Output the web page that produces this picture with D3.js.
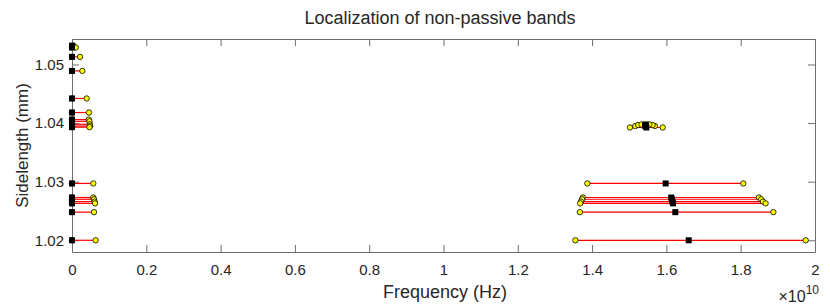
<!DOCTYPE html>
<html>
<head>
<meta charset="utf-8">
<script src="https://cdn.jsdelivr.net/npm/d3@7"></script>
<style>
  body { margin: 0; background: #fff; }
  text { font-family: "Liberation Sans", Arial, sans-serif; fill: #262626; }
</style>
</head>
<body>
<div id="chart"></div>
<script>
// sidelength (mm) of each band and its frequencies (units of 1e10 Hz)
var sidelength = [1.0532, 1.0529, 1.0513, 1.0489, 1.0442, 1.0418, 1.0406, 1.0403, 1.0398, 1.0395, 1.0393,
                  1.0297, 1.0273, 1.0270, 1.0266, 1.0263, 1.0248, 1.0200,
                  1.0297, 1.0273, 1.0270, 1.0266, 1.0263, 1.0248, 1.0200,
                  1.03925, 1.0395, 1.03967, 1.03976];
var fLow  = [0, 0, 0, 0, 0, 0, 0, 0, 0, 0, 0,
             0, 0, 0, 0, 0, 0, 0,
             1.387, 1.375, 1.373, 1.370, 1.368, 1.367, 1.355,
             1.502, 1.516, 1.524, 1.533];
var fMid  = [0, 0, 0, 0, 0, 0, 0, 0, 0, 0, 0,
             0, 0, 0, 0, 0, 0, 0,
             1.598, 1.613, 1.615, 1.616, 1.618, 1.624, 1.660,
             1.546, 1.543, 1.544, 1.544];
var fHigh = [0.004, 0.010, 0.0215, 0.028, 0.0395, 0.0458, 0.045, 0.047, 0.048, 0.049, 0.047,
             0.0573, 0.0573, 0.0592, 0.061, 0.062, 0.0592, 0.0637,
             1.807, 1.849, 1.855, 1.860, 1.867, 1.888, 1.975,
             1.590, 1.569, 1.563, 1.554];

var xTicks = [0, 0.2, 0.4, 0.6, 0.8, 1, 1.2, 1.4, 1.6, 1.8, 2];
var yTicks = [1.02, 1.03, 1.04, 1.05];

var W = 830, H = 307;
var plotLeft = 72, plotRight = 815, plotTop = 39, plotBottom = 252;

var svg = d3.select("#chart").append("svg")
    .attr("width", W).attr("height", H);

var x = d3.scaleLinear().domain([0, 2]).range([plotLeft, plotRight]);
var y = d3.scaleLinear().domain([1.0180, 1.05435]).range([plotBottom, plotTop]);

var bands = sidelength.map(function(s, i) {
    return { s: s, lo: fLow[i], mid: fMid[i], hi: fHigh[i] };
});

// axes box
var axColor = "#6e6e6e";
svg.append("g")
    .attr("transform", "translate(0," + plotBottom + ")")
    .call(d3.axisBottom(x).tickValues(xTicks).tickSizeInner(-7).tickSizeOuter(0)
        .tickPadding(12).tickFormat(function(d) { return d3.format("")(d); }));
svg.append("g")
    .attr("transform", "translate(0," + plotTop + ")")
    .call(d3.axisTop(x).tickValues(xTicks).tickSizeInner(-7).tickSizeOuter(0).tickFormat(""));
svg.append("g")
    .attr("transform", "translate(" + plotLeft + ",0)")
    .call(d3.axisLeft(y).tickValues(yTicks).tickSizeInner(-7).tickSizeOuter(0)
        .tickPadding(8).tickFormat(d3.format(".2f")));
svg.append("g")
    .attr("transform", "translate(" + plotRight + ",0)")
    .call(d3.axisRight(y).tickValues(yTicks).tickSizeInner(-7).tickSizeOuter(0).tickFormat(""));

svg.selectAll(".domain").attr("stroke", axColor);
svg.selectAll(".tick line").attr("stroke", axColor);
svg.selectAll(".tick text").style("font-size", "15px").attr("fill", "#262626")
    .style("font-family", "Liberation Sans, Arial, sans-serif");

// bands
var g = svg.append("g");
g.selectAll("line.band").data(bands).enter().append("line")
    .attr("class", "band")
    .attr("x1", function(d) { return x(d.lo); })
    .attr("x2", function(d) { return x(d.hi); })
    .attr("y1", function(d) { return y(d.s); })
    .attr("y2", function(d) { return y(d.s); })
    .attr("stroke", "#ff0000").attr("stroke-width", 1.2);

var ends = [];
bands.forEach(function(d) { ends.push({ f: d.lo, s: d.s }); ends.push({ f: d.hi, s: d.s }); });
g.selectAll("circle").data(ends).enter().append("circle")
    .attr("cx", function(d) { return x(d.f); })
    .attr("cy", function(d) { return y(d.s); })
    .attr("r", 2.7)
    .attr("fill", "#ffff00").attr("stroke", "#000").attr("stroke-width", 0.8);

g.selectAll("rect").data(bands).enter().append("rect")
    .attr("x", function(d) { return x(d.mid) - 3; })
    .attr("y", function(d) { return y(d.s) - 3; })
    .attr("width", 6).attr("height", 6)
    .attr("fill", "#000");

// labels
svg.append("text")
    .attr("x", 440).attr("y", 24)
    .attr("text-anchor", "middle")
    .style("font-size", "18px").attr("fill", "#000")
    .text("Localization of non-passive bands");

svg.append("text")
    .attr("x", 445).attr("y", 298)
    .attr("text-anchor", "middle")
    .style("font-size", "18px")
    .text("Frequency (Hz)");

svg.append("text")
    .attr("transform", "translate(28," + (plotTop + plotBottom) / 2 + ") rotate(-90)")
    .attr("text-anchor", "middle")
    .style("font-size", "17px")
    .text("Sidelength (mm)");

var mult = svg.append("text")
    .attr("x", 819).attr("y", 302)
    .attr("text-anchor", "end")
    .style("font-size", "16px");
mult.append("tspan").text("\u00d710");
mult.append("tspan").attr("dy", -8).style("font-size", "12px").text("10");
</script>
</body>
</html>
